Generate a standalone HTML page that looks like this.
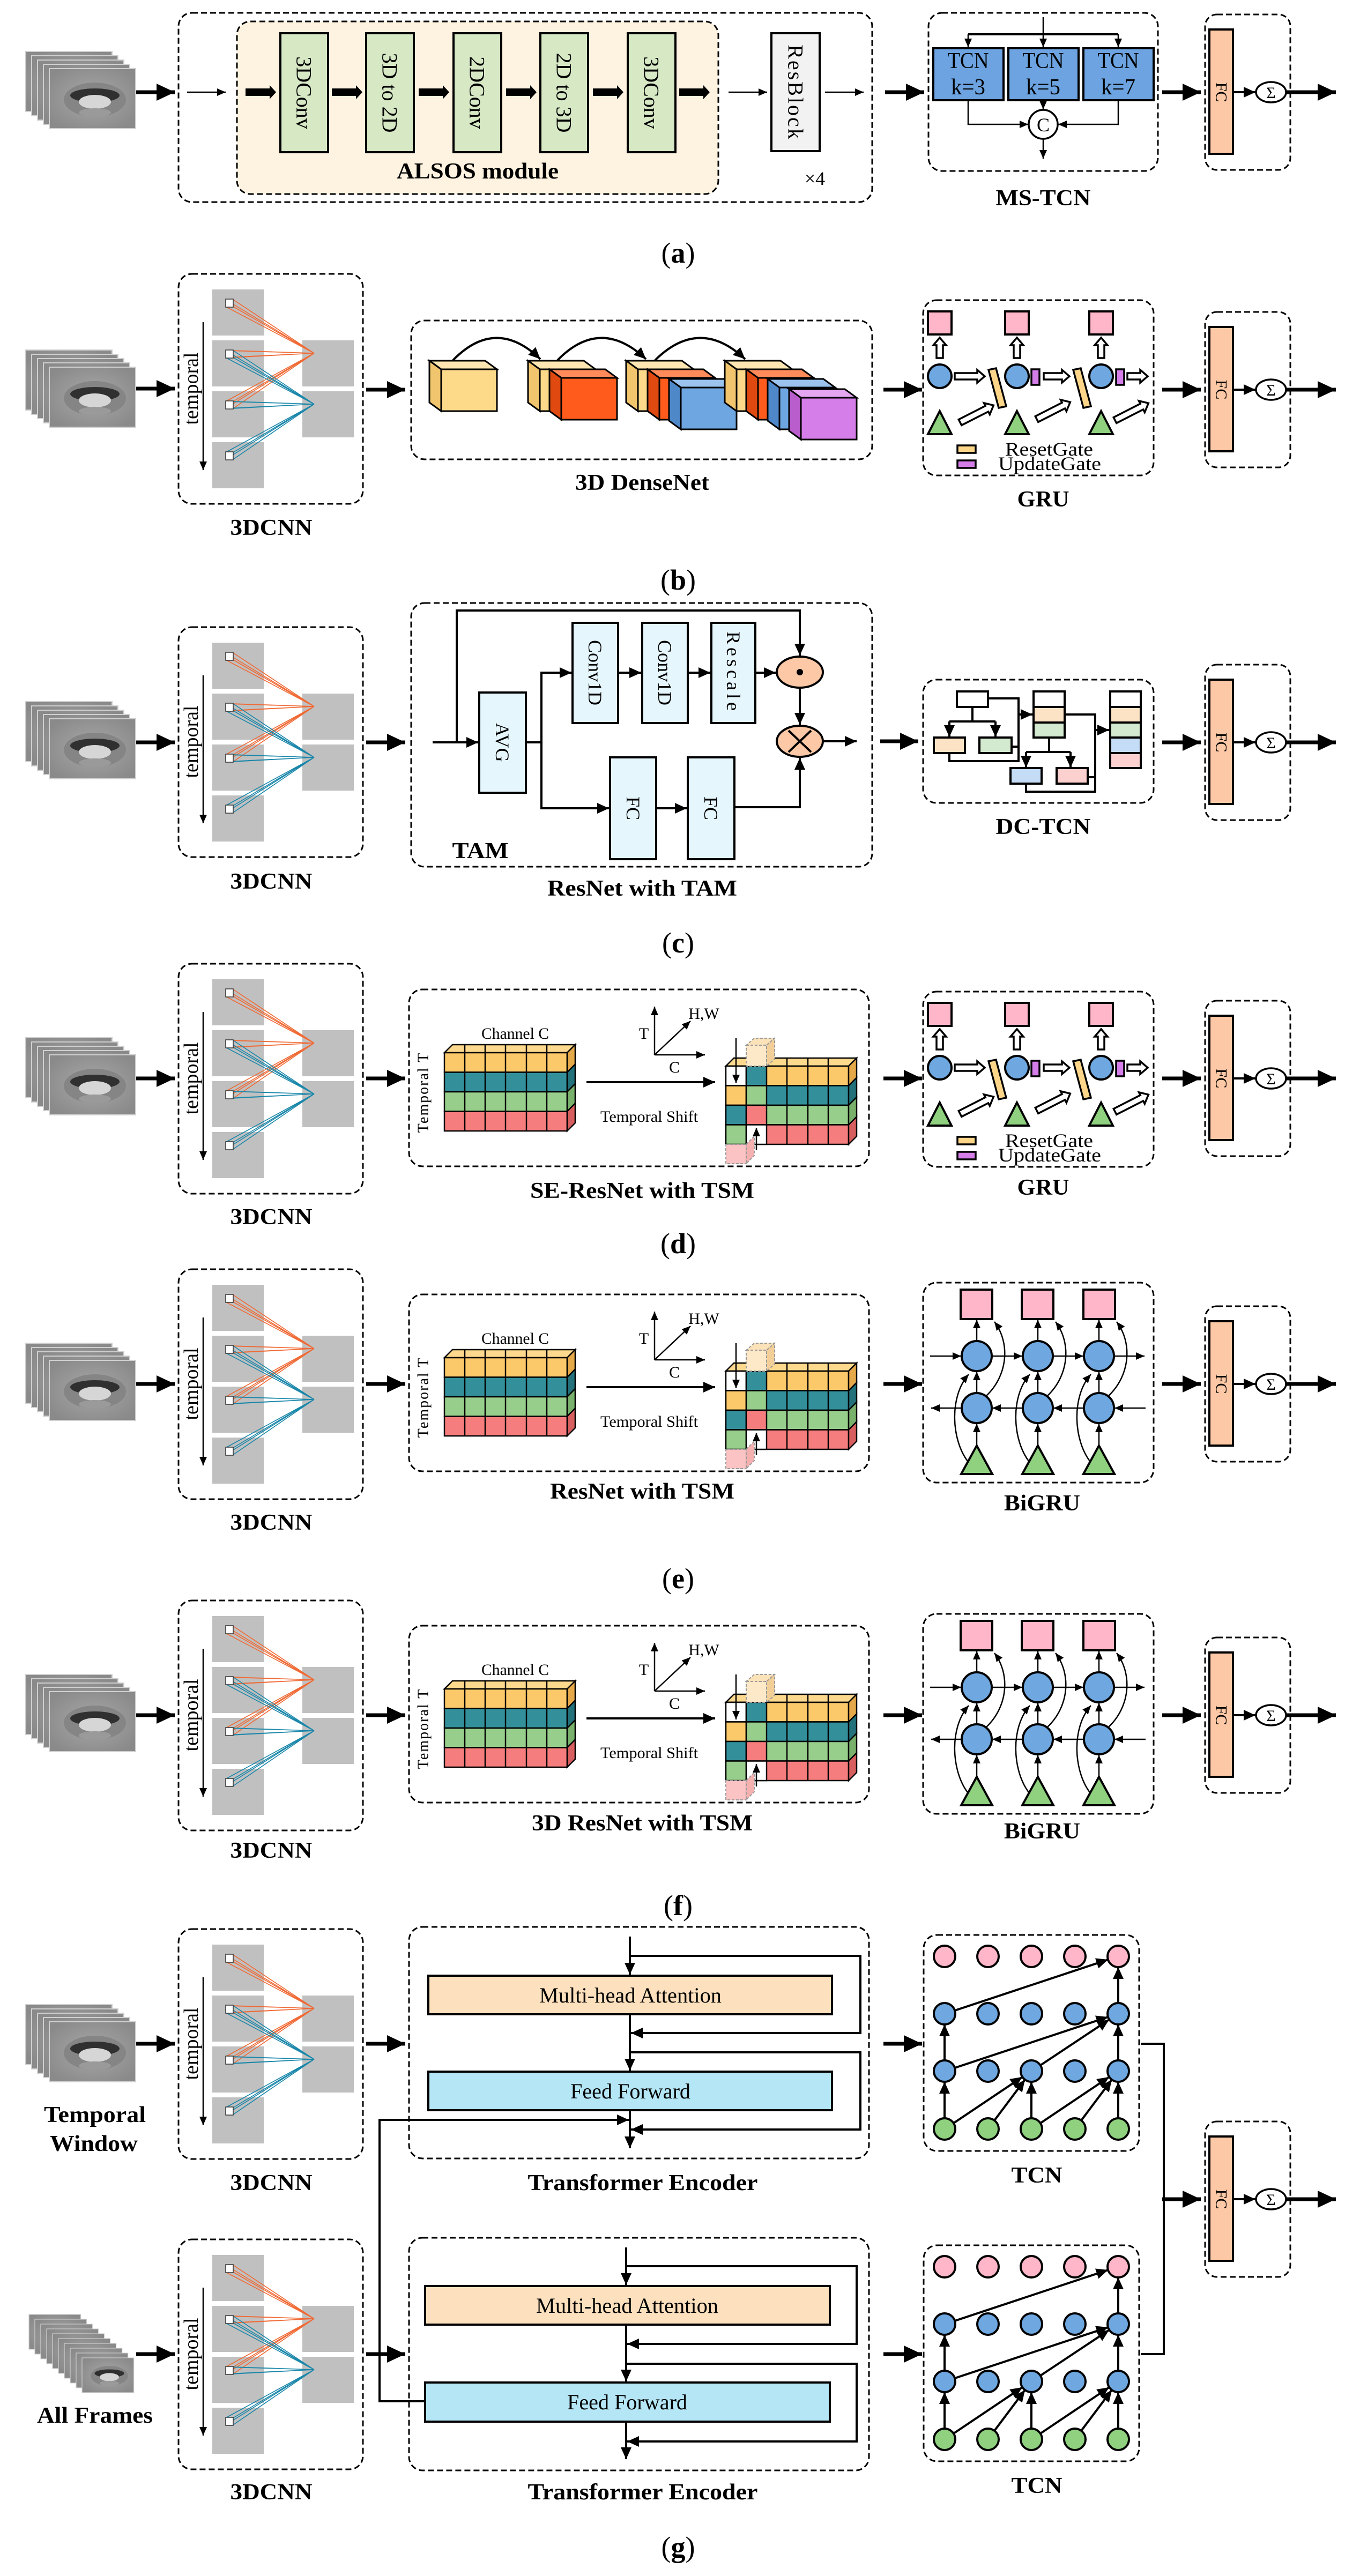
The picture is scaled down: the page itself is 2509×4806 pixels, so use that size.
<!DOCTYPE html>
<html><head><meta charset="utf-8"><style>
html,body{margin:0;padding:0;background:#fff}
svg{display:block}
text{font-family:"Liberation Serif","DejaVu Serif",serif;fill:#000}
.d{fill:none;stroke:#000;stroke-width:3;stroke-dasharray:11 6}
.l{fill:none;stroke:#000;stroke-width:4}
.m{stroke:#000;stroke-width:7;marker-end:url(#A)}
.s{fill:none;stroke:#000;stroke-width:4;marker-end:url(#S)}
.t{fill:none;stroke:#000;stroke-width:2.5;marker-end:url(#T)}
.lb{font-size:42px;font-weight:bold;text-anchor:middle}
.rl{font-size:54px;text-anchor:middle}
.rot{text-anchor:middle;dominant-baseline:central}
.h{fill:#fff;stroke:#000;stroke-width:3.5}
</style></head><body>
<svg width="2509" height="4806" viewBox="0 0 2509 4806" xmlns="http://www.w3.org/2000/svg" font-family="Liberation Serif, DejaVu Serif, serif">
<defs>
<marker id="A" markerUnits="userSpaceOnUse" markerWidth="34" markerHeight="32" viewBox="0 0 34 32" refX="34" refY="16" orient="auto"><path d="M0,0L34,16L0,32z" fill="#000"/></marker>
<marker id="S" markerUnits="userSpaceOnUse" markerWidth="22" markerHeight="20" viewBox="0 0 22 20" refX="22" refY="10" orient="auto"><path d="M0,0L22,10L0,20z" fill="#000"/></marker>
<marker id="T" markerUnits="userSpaceOnUse" markerWidth="16" markerHeight="14" viewBox="0 0 16 14" refX="16" refY="7" orient="auto"><path d="M0,0L16,7L0,14z" fill="#000"/></marker>
<radialGradient id="lg" cx="0.5" cy="0.5" r="0.6"><stop offset="0" stop-color="#a8a8a8"/><stop offset="1" stop-color="#8a8a8a"/></radialGradient>
<g id="lf"><rect width="161" height="112" fill="url(#lg)" stroke="#d0d0d0" stroke-width="2"/><ellipse cx="85" cy="58" rx="58" ry="32" fill="#858585"/><ellipse cx="85" cy="50" rx="46" ry="13" fill="#303030"/><ellipse cx="85" cy="62" rx="30" ry="13" fill="#d6d6d6"/><ellipse cx="85" cy="82" rx="30" ry="8" fill="#9a9a9a"/></g>
<g id="ls"><use href="#lf" x="-44" y="-32"/><use href="#lf" x="-33" y="-24"/><use href="#lf" x="-22" y="-16"/><use href="#lf" x="-11" y="-8"/><use href="#lf"/></g>
<g id="cnn">
<rect x="333" y="0" width="344" height="429" rx="25" class="d"/>
<g fill="#c0c0c0"><rect x="396" y="29" width="96" height="86"/><rect x="396" y="124" width="96" height="86"/><rect x="396" y="219" width="96" height="86"/><rect x="396" y="314" width="96" height="86"/><rect x="564" y="124" width="96" height="86"/><rect x="564" y="219" width="96" height="86"/></g>
<g stroke="#f06a35" stroke-width="1.6" fill="none">
<path d="M421,48L586,148M435,48L586,148M421,61L586,148M435,61L586,148"/>
<path d="M421,143L586,148M435,143L586,148M421,156L586,148M435,156L586,148"/>
<path d="M421,238L586,148M435,238L586,148M421,251L586,148M435,251L586,148"/>
</g>
<g stroke="#1a87aa" stroke-width="1.6" fill="none">
<path d="M421,143L586,243M435,143L586,243M421,156L586,243M435,156L586,243"/>
<path d="M421,238L586,243M435,238L586,243M421,251L586,243M435,251L586,243"/>
<path d="M421,333L586,243M435,333L586,243M421,346L586,243M435,346L586,243"/>
</g>
<g fill="#fff" stroke="#333" stroke-width="1.5"><rect x="421" y="47" width="14" height="15"/><rect x="421" y="142" width="14" height="15"/><rect x="421" y="237" width="14" height="15"/><rect x="421" y="332" width="14" height="15"/></g>
<line x1="379" y1="90" x2="379" y2="366" class="t" stroke-width="3"/>
</g>
<g id="fc">
<line x1="2168" y1="0" x2="2240" y2="0" class="m"/>
<rect x="2248" y="-145" width="159" height="290" rx="22" class="d"/>
<rect x="2256" y="-117" width="44" height="232" fill="#fcc8a5" stroke="#000" stroke-width="4"/>
<line x1="2300" y1="0" x2="2342" y2="0" class="s"/>
<ellipse cx="2371" cy="0" rx="28" ry="19" fill="#fff" stroke="#000" stroke-width="3.5"/>
<line x1="2400" y1="0" x2="2492" y2="0" class="m"/>
</g>
<g id="cy"><polygon points="0,0 104,0 82,-16 -22,-16" fill="#fde6b2" stroke="#000" stroke-width="3"/><polygon points="0,0 -22,-16 -22,62 0,78" fill="#f0c56e" stroke="#000" stroke-width="3"/><rect width="104" height="78" fill="#fdd98a" stroke="#000" stroke-width="3"/></g>
<g id="co"><polygon points="0,0 104,0 82,-16 -22,-16" fill="#ff8a5a" stroke="#000" stroke-width="3"/><polygon points="0,0 -22,-16 -22,62 0,78" fill="#e04a10" stroke="#000" stroke-width="3"/><rect width="104" height="78" fill="#ff5b1c" stroke="#000" stroke-width="3"/></g>
<g id="cb"><polygon points="0,0 104,0 82,-16 -22,-16" fill="#9cc3ee" stroke="#000" stroke-width="3"/><polygon points="0,0 -22,-16 -22,62 0,78" fill="#4f88c8" stroke="#000" stroke-width="3"/><rect width="104" height="78" fill="#6ea6e2" stroke="#000" stroke-width="3"/></g>
<g id="cp"><polygon points="0,0 104,0 82,-16 -22,-16" fill="#e4a6f0" stroke="#000" stroke-width="3"/><polygon points="0,0 -22,-16 -22,62 0,78" fill="#b95ccc" stroke="#000" stroke-width="3"/><rect width="104" height="78" fill="#d57de8" stroke="#000" stroke-width="3"/></g>
<polygon id="ha56" points="0,-6 42,-6 42,-12 56,0 42,12 42,6 0,6" class="h"/>
<polygon id="ha48" points="0,-6 34,-6 34,-12 48,0 34,12 34,6 0,6" class="h"/>
<polygon id="ha38" points="0,-6 24,-6 24,-12 38,0 24,12 24,6 0,6" class="h"/>
<polygon id="ha70" points="0,-6 56,-6 56,-12 70,0 56,12 56,6 0,6" class="h"/>
<g id="gru">
<rect x="1722" y="0" width="430" height="327" rx="25" class="d"/>
<g fill="#ffb6c8" stroke="#000" stroke-width="4"><rect x="1731" y="21" width="44" height="43"/><rect x="1875" y="21" width="44" height="43"/><rect x="2032" y="21" width="44" height="43"/></g>
<use href="#ha38" transform="translate(1753,108) rotate(-90)"/><use href="#ha38" transform="translate(1897,108) rotate(-90)"/><use href="#ha38" transform="translate(2054,108) rotate(-90)"/>
<g fill="#6fa8e0" stroke="#000" stroke-width="4"><circle cx="1753" cy="142" r="22"/><circle cx="1897" cy="142" r="22"/><circle cx="2054" cy="142" r="22"/></g>
<use href="#ha56" transform="translate(1781,142)"/><use href="#ha48" transform="translate(1947,142)"/><use href="#ha38" transform="translate(2103,142)"/>
<g fill="#fdd68a" stroke="#000" stroke-width="3.5"><polygon points="1844,130 1858,127 1877,198 1863,201"/><polygon points="2002,130 2016,127 2035,198 2021,201"/></g>
<g fill="#d57de8" stroke="#000" stroke-width="3.5"><rect x="1924" y="129" width="15" height="29"/><rect x="2082" y="129" width="15" height="29"/></g>
<g fill="#8fd17f" stroke="#000" stroke-width="4"><polygon points="1753,207 1775,250 1731,250"/><polygon points="1897,207 1919,250 1875,250"/><polygon points="2054,207 2076,250 2032,250"/></g>
<use href="#ha70" transform="translate(1791,228) rotate(-27)"/><use href="#ha70" transform="translate(1934,222) rotate(-27)"/><use href="#ha70" transform="translate(2080,224) rotate(-27)"/>
<rect x="1786" y="271" width="34" height="14" fill="#fdd68a" stroke="#000" stroke-width="3.5"/>
<rect x="1786" y="299" width="34" height="14" fill="#d57de8" stroke="#000" stroke-width="3.5"/>
</g>
<g id="bigru">
<rect x="1722" y="-3" width="430" height="373" rx="25" class="d"/>
<g fill="#ffb6c8" stroke="#000" stroke-width="4"><rect x="1792" y="10" width="59" height="55"/><rect x="1906" y="10" width="59" height="55"/><rect x="2021" y="10" width="59" height="55"/></g>
<g fill="#6fa8e0" stroke="#000" stroke-width="4"><circle cx="1822" cy="134" r="28"/><circle cx="1936" cy="134" r="28"/><circle cx="2050" cy="134" r="28"/><circle cx="1822" cy="231" r="28"/><circle cx="1936" cy="231" r="28"/><circle cx="2050" cy="231" r="28"/></g>
<g fill="#8fd17f" stroke="#000" stroke-width="4"><polygon points="1822,301 1851,354 1793,354"/><polygon points="1936,301 1965,354 1907,354"/><polygon points="2050,301 2079,354 2021,354"/></g>
<g class="t" stroke-width="3">
<path d="M1735,134H1793"/><path d="M1850,134H1907"/><path d="M1964,134H2021"/><path d="M2078,134H2135"/>
<path d="M2137,231H2079"/><path d="M2021,231H1965"/><path d="M1907,231H1851"/><path d="M1793,231H1737"/>
<path d="M1822,301V260"/><path d="M1822,203V163"/><path d="M1822,106V66"/>
<path d="M1936,301V260"/><path d="M1936,203V163"/><path d="M1936,106V66"/>
<path d="M2050,301V260"/><path d="M2050,203V163"/><path d="M2050,106V66"/>
<path d="M1805,330C1775,290 1770,210 1807,168"/><path d="M1919,330C1889,290 1884,210 1921,168"/><path d="M2033,330C2003,290 1998,210 2035,168"/>
<path d="M1840,208C1880,170 1885,110 1855,70"/><path d="M1954,208C1994,170 1999,110 1969,70"/><path d="M2068,208C2108,170 2113,110 2083,70"/>
</g>
</g>
<g id="tsm">
<rect x="763" y="0" width="858" height="330" rx="25" class="d"/>
<polygon points="829,118 1058,118 1073,103 844,103" fill="#fdd98e" stroke="#000" stroke-width="2.5"/>
<g stroke="#000" stroke-width="2.5"><rect x="829" y="118" width="229" height="36.5" fill="#fcc96a"/><rect x="829" y="154.5" width="229" height="36.5" fill="#33909b"/><rect x="829" y="191" width="229" height="36.5" fill="#98ce8c"/><rect x="829" y="227.5" width="229" height="36.5" fill="#f67d7d"/>
<polygon points="1058,118 1073,103 1073,139.5 1058,154.5" fill="#e6a94a"/><polygon points="1058,154.5 1073,139.5 1073,176 1058,191" fill="#23717a"/><polygon points="1058,191 1073,176 1073,212.5 1058,227.5" fill="#78b06c"/><polygon points="1058,227.5 1073,212.5 1073,249 1058,264" fill="#d85f5f"/>
<path d="M867,103V264M905,103V264M943,103V264M982,103V264M1020,103V264" fill="none"/></g>
<g stroke="#000" stroke-width="2.5">
<polygon points="1354,143 1583,143 1598,128 1369,128" fill="#fdd98e"/>
<rect x="1354" y="143" width="229" height="36.5" fill="#fcc96a"/><rect x="1354" y="179.5" width="229" height="36.5" fill="#33909b"/><rect x="1354" y="216" width="229" height="36.5" fill="#98ce8c"/><rect x="1354" y="252.5" width="229" height="36.5" fill="#f67d7d"/>
<polygon points="1583,143 1598,128 1598,164.5 1583,179.5" fill="#e6a94a"/><polygon points="1583,179.5 1598,164.5 1598,201 1583,216" fill="#23717a"/><polygon points="1583,216 1598,201 1598,237.5 1583,252.5" fill="#78b06c"/><polygon points="1583,252.5 1598,237.5 1598,274 1583,289" fill="#d85f5f"/>
<rect x="1354" y="143" width="38" height="36.5" fill="#fff"/><rect x="1392" y="143" width="38" height="36.5" fill="#33909b"/>
<rect x="1354" y="179.5" width="38" height="36.5" fill="#fcc96a"/><rect x="1392" y="179.5" width="38" height="36.5" fill="#98ce8c"/>
<rect x="1354" y="216" width="38" height="36.5" fill="#33909b"/><rect x="1392" y="216" width="38" height="36.5" fill="#f67d7d"/>
<rect x="1354" y="252.5" width="38" height="36.5" fill="#98ce8c"/><rect x="1392" y="252.5" width="38" height="36.5" fill="#fff"/>
<path d="M1468,128V289M1507,128V289M1545,128V289" fill="none"/></g>
<g stroke="#999" stroke-width="2" stroke-dasharray="5 3"><polygon points="1392,104 1430,104 1445,91 1407,91" fill="#fbe2b8"/><polygon points="1430,104 1445,91 1445,130 1430,143" fill="#f2cf98"/><rect x="1392" y="104" width="38" height="39" fill="#fde8c8"/><rect x="1354" y="289" width="38" height="36" fill="#fbc3c3"/><polygon points="1392,289 1407,274 1407,310 1392,325" fill="#f5b0b0"/></g>
<line x1="1373" y1="91" x2="1373" y2="175" class="t" stroke-width="2.5"/>
<line x1="1411" y1="300" x2="1411" y2="258" class="t" stroke-width="2.5"/>
<line x1="1221" y1="122" x2="1221" y2="32" class="t" stroke-width="3"/><line x1="1221" y1="122" x2="1315" y2="122" class="t" stroke-width="3"/><line x1="1221" y1="122" x2="1288" y2="59" class="t" stroke-width="3"/>
<line x1="1094" y1="173" x2="1334" y2="173" class="s"/>
</g>
<g id="tcn">
<rect x="1723" y="0" width="402" height="403" rx="25" class="d"/>
<g stroke="#000" stroke-width="4"><g fill="#ffb6c8"><circle cx="1762" cy="40" r="20"/><circle cx="1843" cy="40" r="20"/><circle cx="1924" cy="40" r="20"/><circle cx="2005" cy="40" r="20"/><circle cx="2086" cy="40" r="20"/></g>
<g fill="#6fa8e0"><circle cx="1762" cy="147" r="20"/><circle cx="1843" cy="147" r="20"/><circle cx="1924" cy="147" r="20"/><circle cx="2005" cy="147" r="20"/><circle cx="2086" cy="147" r="20"/><circle cx="1762" cy="254" r="20"/><circle cx="1843" cy="254" r="20"/><circle cx="1924" cy="254" r="20"/><circle cx="2005" cy="254" r="20"/><circle cx="2086" cy="254" r="20"/></g>
<g fill="#8fd17f"><circle cx="1762" cy="362" r="20"/><circle cx="1843" cy="362" r="20"/><circle cx="1924" cy="362" r="20"/><circle cx="2005" cy="362" r="20"/><circle cx="2086" cy="362" r="20"/></g></g>
<g class="s" stroke-width="3.5">
<path d="M1762,342V274"/><path d="M1924,342V274"/><path d="M2086,342V274"/>
<path d="M1779,351L1907,265"/><path d="M1855,346L1912,270"/><path d="M1941,351L2069,265"/><path d="M2017,346L2074,270"/>
<path d="M1762,234V167"/><path d="M2086,234V167"/><path d="M1781,248L2067,153"/><path d="M1941,243L2069,158"/>
<path d="M2086,127V60"/><path d="M1781,141L2067,46"/>
</g>
</g>
</defs>

<!-- ROW A -->
<use href="#ls" transform="translate(92,128)"/>
<line x1="254" y1="172" x2="326" y2="172" class="m"/>
<rect x="333" y="24" width="1294" height="353" rx="25" class="d"/>
<rect x="442" y="40" width="898" height="322" rx="25" fill="#fdf3e0" stroke="#000" stroke-width="3" stroke-dasharray="11 6"/>
<line x1="349" y1="172" x2="421" y2="172" class="t"/>
<g fill="#d6e8c4" stroke="#000" stroke-width="4"><rect x="523" y="62" width="89" height="222"/><rect x="683" y="62" width="89" height="222"/><rect x="846" y="62" width="89" height="222"/><rect x="1008" y="62" width="89" height="222"/><rect x="1171" y="62" width="89" height="222"/></g>
<g fill="#000"><polygon points="458,165 503,165 503,159 515,172 503,185 503,179 458,179"/><polygon points="619,165 664,165 664,159 676,172 664,185 664,179 619,179"/><polygon points="781,165 826,165 826,159 838,172 826,185 826,179 781,179"/><polygon points="944,165 989,165 989,159 1001,172 989,185 989,179 944,179"/><polygon points="1106,165 1151,165 1151,159 1163,172 1151,185 1151,179 1106,179"/><polygon points="1267,165 1312,165 1312,159 1324,172 1312,185 1312,179 1267,179"/></g>
<g font-size="40"><text class="rot" transform="translate(567,173) rotate(90)">3DConv</text><text class="rot" transform="translate(727,173) rotate(90)">3D to 2D</text><text class="rot" transform="translate(890,173) rotate(90)">2DConv</text><text class="rot" transform="translate(1052,173) rotate(90)">2D to 3D</text><text class="rot" transform="translate(1215,173) rotate(90)">3DConv</text></g>
<rect x="1439" y="62" width="90" height="220" fill="#f2f2f2" stroke="#000" stroke-width="4"/>
<text class="rot" font-size="40" letter-spacing="3" transform="translate(1484,173) rotate(90)">ResBlock</text>
<line x1="1359" y1="172" x2="1431" y2="172" class="t"/><line x1="1539" y1="172" x2="1611" y2="172" class="t"/>
<text x="891" y="333" class="lb" textLength="302" lengthAdjust="spacingAndGlyphs">ALSOS module</text>
<text x="1520" y="345" font-size="36" text-anchor="middle">×4</text>
<line x1="1651" y1="172" x2="1724" y2="172" class="m"/>
<rect x="1732" y="24" width="428" height="295" rx="25" class="d"/>
<g fill="#6ca3e0" stroke="#000" stroke-width="4"><rect x="1741" y="90" width="131" height="97"/><rect x="1881" y="90" width="131" height="97"/><rect x="2021" y="90" width="131" height="97"/></g>
<g font-size="42" text-anchor="middle"><text x="1806" y="127" textLength="77" lengthAdjust="spacingAndGlyphs">TCN</text><text x="1946" y="127" textLength="77" lengthAdjust="spacingAndGlyphs">TCN</text><text x="2086" y="127" textLength="77" lengthAdjust="spacingAndGlyphs">TCN</text><text x="1806" y="176" textLength="64" lengthAdjust="spacingAndGlyphs">k=3</text><text x="1946" y="176" textLength="64" lengthAdjust="spacingAndGlyphs">k=5</text><text x="2086" y="176" textLength="64" lengthAdjust="spacingAndGlyphs">k=7</text></g>
<path d="M1946,32V88" class="t"/><path d="M1806,64H2086" class="l" stroke-width="3"/><path d="M1806,64V88" class="t"/><path d="M2086,64V88" class="t"/>
<path d="M1806,187V232H1918" class="t"/><path d="M2086,187V232H1974" class="t"/><path d="M1946,187V204" class="t"/>
<circle cx="1946" cy="232" r="27" fill="#fff" stroke="#000" stroke-width="3.5"/><text x="1946" y="245" font-size="36" text-anchor="middle">C</text>
<path d="M1946,259V296" class="t"/>
<text x="1946" y="383" class="lb" textLength="177" lengthAdjust="spacingAndGlyphs">MS-TCN</text>
<use href="#fc" transform="translate(0,172)"/>
<text class="rot" font-size="30" transform="translate(2278,172) rotate(90)">FC</text><text x="2371" y="183" font-size="30" text-anchor="middle">Σ</text>
<text x="1265" y="490" class="rl">(<tspan font-weight="bold">a</tspan>)</text>

<!-- ROW B -->
<use href="#ls" transform="translate(92,685)"/>
<line x1="254" y1="725" x2="326" y2="725" class="m"/>
<use href="#cnn" transform="translate(0,511)"/>
<text class="rot" font-size="38" transform="translate(357,725) rotate(-90)">temporal</text>
<text x="506" y="998" class="lb" textLength="153" lengthAdjust="spacingAndGlyphs">3DCNN</text>
<line x1="683" y1="727" x2="756" y2="727" class="m"/>
<rect x="767" y="598" width="860" height="259" rx="25" class="d"/>
<use href="#cy" transform="translate(823,689)"/>
<use href="#cy" transform="translate(1007,689)"/><use href="#co" transform="translate(1047,705)"/>
<use href="#cy" transform="translate(1190,689)"/><use href="#co" transform="translate(1230,705)"/><use href="#cb" transform="translate(1270,723)"/>
<use href="#cy" transform="translate(1374,689)"/><use href="#co" transform="translate(1414,705)"/><use href="#cb" transform="translate(1454,723)"/><use href="#cp" transform="translate(1494,742)"/>
<path d="M845,672Q925,590 1008,670" class="s"/><path d="M1040,672Q1120,590 1205,670" class="s"/><path d="M1222,672Q1305,590 1390,670" class="s"/>
<text x="1198" y="914" class="lb" textLength="250" lengthAdjust="spacingAndGlyphs">3D DenseNet</text>
<line x1="1648" y1="727" x2="1720" y2="727" class="m"/>
<use href="#gru" transform="translate(0,560)"/>
<text x="1875" y="850" font-size="36" textLength="164" lengthAdjust="spacingAndGlyphs">ResetGate</text><text x="1862" y="877" font-size="36" textLength="192" lengthAdjust="spacingAndGlyphs">UpdateGate</text>
<text x="1946" y="945" class="lb" textLength="97" lengthAdjust="spacingAndGlyphs">GRU</text>
<use href="#fc" transform="translate(0,727)"/>
<text class="rot" font-size="30" transform="translate(2278,727) rotate(90)">FC</text><text x="2371" y="738" font-size="30" text-anchor="middle">Σ</text>
<text x="1265" y="1100" class="rl">(<tspan font-weight="bold">b</tspan>)</text>

<!-- ROW C -->
<use href="#ls" transform="translate(92,1341)"/>
<line x1="254" y1="1385" x2="326" y2="1385" class="m"/>
<use href="#cnn" transform="translate(0,1170)"/>
<text class="rot" font-size="38" transform="translate(357,1384) rotate(-90)">temporal</text>
<text x="506" y="1658" class="lb" textLength="153" lengthAdjust="spacingAndGlyphs">3DCNN</text>
<line x1="683" y1="1385" x2="756" y2="1385" class="m"/>
<rect x="767" y="1125" width="860" height="492" rx="25" class="d"/>
<g fill="#e6f6fd" stroke="#000" stroke-width="4"><rect x="894" y="1292" width="87" height="187"/><rect x="1068" y="1162" width="85" height="187"/><rect x="1198" y="1162" width="85" height="187"/><rect x="1327" y="1162" width="82" height="187"/><rect x="1138" y="1413" width="86" height="190"/><rect x="1283" y="1413" width="87" height="190"/></g>
<g font-size="36"><text class="rot" transform="translate(937,1385) rotate(90)">AVG</text><text class="rot" transform="translate(1110,1255) rotate(90)">Conv1D</text><text class="rot" transform="translate(1240,1255) rotate(90)">Conv1D</text><text class="rot" letter-spacing="6" transform="translate(1368,1255) rotate(90)">Rescale</text><text class="rot" transform="translate(1181,1508) rotate(90)">FC</text><text class="rot" transform="translate(1326,1508) rotate(90)">FC</text></g>
<path d="M807,1385H892" class="s"/><path d="M852,1385V1139H1492V1223" class="s"/>
<path d="M981,1385H1010V1255H1066" class="s"/><path d="M1010,1385V1508H1136" class="s"/>
<path d="M1153,1255H1196" class="s"/><path d="M1283,1255H1325" class="s"/><path d="M1409,1255H1447" class="s"/><path d="M1224,1508H1281" class="s"/>
<path d="M1370,1506H1492V1414" class="s"/><path d="M1492,1283V1352" class="s"/><path d="M1535,1383H1598" class="s"/>
<ellipse cx="1492" cy="1254" rx="43" ry="29" fill="#fcc8a5" stroke="#000" stroke-width="4"/><circle cx="1492" cy="1254" r="6" fill="#000"/>
<ellipse cx="1492" cy="1383" rx="43" ry="29" fill="#fcc8a5" stroke="#000" stroke-width="4"/><path d="M1471,1363L1513,1403M1513,1363L1471,1403" class="l" stroke-width="3"/>
<text x="896" y="1601" class="lb" textLength="105" lengthAdjust="spacingAndGlyphs">TAM</text>
<text x="1198" y="1671" class="lb" textLength="354" lengthAdjust="spacingAndGlyphs">ResNet with TAM</text>
<line x1="1642" y1="1383" x2="1713" y2="1383" class="m"/>
<rect x="1722" y="1268" width="430" height="230" rx="25" class="d"/>
<g stroke="#000" stroke-width="4"><rect x="1785" y="1290" width="58" height="29" fill="#fff"/><rect x="1742" y="1376" width="58" height="29" fill="#fde3c6"/><rect x="1827" y="1376" width="60" height="29" fill="#d3ead0"/>
<rect x="1928" y="1290" width="58" height="29" fill="#fff"/><rect x="1928" y="1319" width="58" height="29" fill="#fde3c6"/><rect x="1928" y="1348" width="58" height="28" fill="#d3ead0"/>
<rect x="1885" y="1433" width="58" height="29" fill="#c5dcf6"/><rect x="1971" y="1433" width="58" height="29" fill="#fdd0d0"/>
<rect x="2071" y="1290" width="57" height="29" fill="#fff"/><rect x="2071" y="1319" width="57" height="29" fill="#fde3c6"/><rect x="2071" y="1348" width="57" height="28" fill="#d3ead0"/><rect x="2071" y="1376" width="57" height="29" fill="#c5dcf6"/><rect x="2071" y="1405" width="57" height="28" fill="#fdd0d0"/></g>
<g class="l" stroke-width="3.5"><path d="M1843,1303H1900V1420H1771V1405"/><path d="M1887,1393H1900"/><path d="M1771,1346H1857"/><path d="M1814,1319V1346"/><path d="M1986,1333H2043V1477H1914V1462"/><path d="M2029,1450H2043"/><path d="M1914,1403H1997"/><path d="M1957,1376V1403"/></g>
<g class="s" stroke-width="3.5"><path d="M1771,1346V1375"/><path d="M1857,1346V1375"/><path d="M1914,1403V1432"/><path d="M1997,1403V1432"/><path d="M1900,1333H1926"/><path d="M2043,1362H2069"/></g>
<text x="1946" y="1556" class="lb" textLength="177" lengthAdjust="spacingAndGlyphs">DC-TCN</text>
<use href="#fc" transform="translate(0,1385)"/>
<text class="rot" font-size="30" transform="translate(2278,1385) rotate(90)">FC</text><text x="2371" y="1396" font-size="30" text-anchor="middle">Σ</text>
<text x="1265" y="1777" class="rl">(<tspan font-weight="bold">c</tspan>)</text>

<!-- ROW D -->
<use href="#ls" transform="translate(92,1968)"/>
<line x1="254" y1="2012" x2="326" y2="2012" class="m"/>
<use href="#cnn" transform="translate(0,1798)"/>
<text class="rot" font-size="38" transform="translate(357,2012) rotate(-90)">temporal</text>
<text x="506" y="2284" class="lb" textLength="153" lengthAdjust="spacingAndGlyphs">3DCNN</text>
<line x1="683" y1="2012" x2="756" y2="2012" class="m"/>
<use href="#tsm" transform="translate(0,1846)"/>
<text x="961" y="1938" font-size="30" text-anchor="middle" textLength="126" lengthAdjust="spacingAndGlyphs">Channel C</text>
<text class="rot" font-size="28" letter-spacing="2" transform="translate(790,2038) rotate(-90)">Temporal T</text>
<text x="1201" y="1938" font-size="30" text-anchor="middle">T</text><text x="1258" y="2001" font-size="30" text-anchor="middle">C</text><text x="1313" y="1901" font-size="30" text-anchor="middle">H,W</text>
<text x="1211" y="2093" font-size="30" text-anchor="middle" textLength="182" lengthAdjust="spacingAndGlyphs">Temporal Shift</text>
<text x="1198" y="2235" class="lb" textLength="418" lengthAdjust="spacingAndGlyphs">SE-ResNet with TSM</text>
<line x1="1648" y1="2012" x2="1720" y2="2012" class="m"/>
<use href="#gru" transform="translate(0,1850)"/>
<text x="1875" y="2140" font-size="36" textLength="164" lengthAdjust="spacingAndGlyphs">ResetGate</text><text x="1862" y="2167" font-size="36" textLength="192" lengthAdjust="spacingAndGlyphs">UpdateGate</text>
<text x="1946" y="2229" class="lb" textLength="97" lengthAdjust="spacingAndGlyphs">GRU</text>
<use href="#fc" transform="translate(0,2012)"/>
<text class="rot" font-size="30" transform="translate(2278,2012) rotate(90)">FC</text><text x="2371" y="2023" font-size="30" text-anchor="middle">Σ</text>
<text x="1265" y="2338" class="rl">(<tspan font-weight="bold">d</tspan>)</text>

<!-- ROW E -->
<use href="#ls" transform="translate(92,2538)"/>
<line x1="254" y1="2582" x2="326" y2="2582" class="m"/>
<use href="#cnn" transform="translate(0,2368)"/>
<text class="rot" font-size="38" transform="translate(357,2582) rotate(-90)">temporal</text>
<text x="506" y="2854" class="lb" textLength="153" lengthAdjust="spacingAndGlyphs">3DCNN</text>
<line x1="683" y1="2582" x2="756" y2="2582" class="m"/>
<use href="#tsm" transform="translate(0,2415)"/>
<text x="961" y="2507" font-size="30" text-anchor="middle" textLength="126" lengthAdjust="spacingAndGlyphs">Channel C</text>
<text class="rot" font-size="28" letter-spacing="2" transform="translate(790,2607) rotate(-90)">Temporal T</text>
<text x="1201" y="2507" font-size="30" text-anchor="middle">T</text><text x="1258" y="2570" font-size="30" text-anchor="middle">C</text><text x="1313" y="2470" font-size="30" text-anchor="middle">H,W</text>
<text x="1211" y="2662" font-size="30" text-anchor="middle" textLength="182" lengthAdjust="spacingAndGlyphs">Temporal Shift</text>
<text x="1198" y="2796" class="lb" textLength="344" lengthAdjust="spacingAndGlyphs">ResNet with TSM</text>
<line x1="1648" y1="2582" x2="1720" y2="2582" class="m"/>
<use href="#bigru" transform="translate(0,2396)"/>
<text x="1944" y="2818" class="lb" textLength="142" lengthAdjust="spacingAndGlyphs">BiGRU</text>
<use href="#fc" transform="translate(0,2582)"/>
<text class="rot" font-size="30" transform="translate(2278,2582) rotate(90)">FC</text><text x="2371" y="2593" font-size="30" text-anchor="middle">Σ</text>
<text x="1265" y="2963" class="rl">(<tspan font-weight="bold">e</tspan>)</text>

<!-- ROW F -->
<use href="#ls" transform="translate(92,3156)"/>
<line x1="254" y1="3200" x2="326" y2="3200" class="m"/>
<use href="#cnn" transform="translate(0,2986)"/>
<text class="rot" font-size="38" transform="translate(357,3200) rotate(-90)">temporal</text>
<text x="506" y="3466" class="lb" textLength="153" lengthAdjust="spacingAndGlyphs">3DCNN</text>
<line x1="683" y1="3200" x2="756" y2="3200" class="m"/>
<use href="#tsm" transform="translate(0,3033)"/>
<text x="961" y="3125" font-size="30" text-anchor="middle" textLength="126" lengthAdjust="spacingAndGlyphs">Channel C</text>
<text class="rot" font-size="28" letter-spacing="2" transform="translate(790,3225) rotate(-90)">Temporal T</text>
<text x="1201" y="3125" font-size="30" text-anchor="middle">T</text><text x="1258" y="3188" font-size="30" text-anchor="middle">C</text><text x="1313" y="3088" font-size="30" text-anchor="middle">H,W</text>
<text x="1211" y="3280" font-size="30" text-anchor="middle" textLength="182" lengthAdjust="spacingAndGlyphs">Temporal Shift</text>
<text x="1198" y="3415" class="lb" textLength="412" lengthAdjust="spacingAndGlyphs">3D ResNet with TSM</text>
<line x1="1648" y1="3200" x2="1720" y2="3200" class="m"/>
<use href="#bigru" transform="translate(0,3014)"/>
<text x="1944" y="3430" class="lb" textLength="142" lengthAdjust="spacingAndGlyphs">BiGRU</text>
<use href="#fc" transform="translate(0,3200)"/>
<text class="rot" font-size="30" transform="translate(2278,3200) rotate(90)">FC</text><text x="2371" y="3211" font-size="30" text-anchor="middle">Σ</text>
<text x="1265" y="3573" class="rl">(<tspan font-weight="bold">f</tspan>)</text>

<!-- ROW G top -->
<use href="#ls" transform="translate(92,3772)"/>
<line x1="254" y1="3813" x2="326" y2="3813" class="m"/>
<text x="177" y="3959" class="lb" textLength="190" lengthAdjust="spacingAndGlyphs">Temporal</text>
<text x="175" y="4013" class="lb" textLength="164" lengthAdjust="spacingAndGlyphs">Window</text>
<use href="#cnn" transform="translate(0,3599)"/>
<text class="rot" font-size="38" transform="translate(357,3813) rotate(-90)">temporal</text>
<text x="506" y="4086" class="lb" textLength="153" lengthAdjust="spacingAndGlyphs">3DCNN</text>
<line x1="683" y1="3813" x2="756" y2="3813" class="m"/>
<rect x="763" y="3595" width="858" height="432" rx="25" class="d"/>
<path d="M1175,3613V3684" class="s" stroke-width="3.5"/><path d="M1175,3649H1605V3793H1177" class="s" stroke-width="3.5"/>
<rect x="799" y="3686" width="753" height="72" fill="#fde0bd" stroke="#000" stroke-width="4"/>
<text x="1176" y="3736" font-size="40" text-anchor="middle" textLength="340" lengthAdjust="spacingAndGlyphs">Multi-head Attention</text>
<path d="M1175,3758V3863" class="s" stroke-width="3.5"/><path d="M1175,3829H1605V3973H1177" class="s" stroke-width="3.5"/>
<rect x="799" y="3865" width="753" height="72" fill="#b5e6f5" stroke="#000" stroke-width="4"/>
<text x="1176" y="3915" font-size="40" text-anchor="middle" textLength="224" lengthAdjust="spacingAndGlyphs">Feed Forward</text>
<path d="M1175,3937V4008" class="s" stroke-width="3.5"/>
<path d="M793,4480H708V3955H1173" class="s" stroke-width="3.5"/>
<text x="1199" y="4086" class="lb" textLength="429" lengthAdjust="spacingAndGlyphs">Transformer Encoder</text>
<line x1="1648" y1="3813" x2="1720" y2="3813" class="m"/>
<use href="#tcn" transform="translate(0,3610)"/>
<text x="1934" y="4072" class="lb" textLength="95" lengthAdjust="spacingAndGlyphs">TCN</text>
<path d="M2128,3813H2171V4392H2128" class="l"/>
<use href="#fc" transform="translate(0,4103)"/>
<text class="rot" font-size="30" transform="translate(2278,4103) rotate(90)">FC</text><text x="2371" y="4114" font-size="30" text-anchor="middle">Σ</text>

<!-- ROW G bottom -->
<g>
<use href="#lf" transform="translate(54,4318) scale(0.6,0.58)"/><use href="#lf" transform="translate(65,4327) scale(0.6,0.58)"/><use href="#lf" transform="translate(76,4336) scale(0.6,0.58)"/><use href="#lf" transform="translate(87,4345) scale(0.6,0.58)"/><use href="#lf" transform="translate(98,4354) scale(0.6,0.58)"/><use href="#lf" transform="translate(109,4363) scale(0.6,0.58)"/><use href="#lf" transform="translate(120,4372) scale(0.6,0.58)"/><use href="#lf" transform="translate(131,4381) scale(0.6,0.58)"/><use href="#lf" transform="translate(142,4390) scale(0.6,0.58)"/><use href="#lf" transform="translate(153,4399) scale(0.6,0.58)"/>
</g>
<line x1="254" y1="4392" x2="326" y2="4392" class="m"/>
<text x="177" y="4520" class="lb" textLength="216" lengthAdjust="spacingAndGlyphs">All Frames</text>
<use href="#cnn" transform="translate(0,4178)"/>
<text class="rot" font-size="38" transform="translate(357,4392) rotate(-90)">temporal</text>
<text x="506" y="4663" class="lb" textLength="153" lengthAdjust="spacingAndGlyphs">3DCNN</text>
<line x1="683" y1="4392" x2="756" y2="4392" class="m"/>
<rect x="763" y="4175" width="858" height="434" rx="25" class="d"/>
<path d="M1168,4193V4263" class="s" stroke-width="3.5"/><path d="M1168,4228H1598V4373H1170" class="s" stroke-width="3.5"/>
<rect x="793" y="4265" width="755" height="72" fill="#fde0bd" stroke="#000" stroke-width="4"/>
<text x="1170" y="4315" font-size="40" text-anchor="middle" textLength="340" lengthAdjust="spacingAndGlyphs">Multi-head Attention</text>
<path d="M1168,4337V4443" class="s" stroke-width="3.5"/><path d="M1168,4410H1598V4555H1170" class="s" stroke-width="3.5"/>
<rect x="793" y="4445" width="755" height="73" fill="#b5e6f5" stroke="#000" stroke-width="4"/>
<text x="1170" y="4495" font-size="40" text-anchor="middle" textLength="224" lengthAdjust="spacingAndGlyphs">Feed Forward</text>
<path d="M1168,4518V4588" class="s" stroke-width="3.5"/>
<text x="1199" y="4663" class="lb" textLength="429" lengthAdjust="spacingAndGlyphs">Transformer Encoder</text>
<line x1="1648" y1="4392" x2="1720" y2="4392" class="m"/>
<use href="#tcn" transform="translate(0,4189)"/>
<text x="1934" y="4651" class="lb" textLength="95" lengthAdjust="spacingAndGlyphs">TCN</text>
<text x="1265" y="4770" class="rl">(<tspan font-weight="bold">g</tspan>)</text>
</svg>
</body></html>
